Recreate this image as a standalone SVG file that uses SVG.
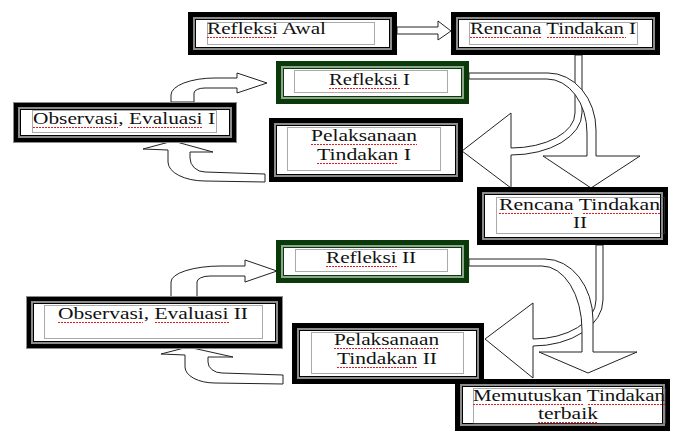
<svg xmlns="http://www.w3.org/2000/svg" width="673" height="431" viewBox="0 0 673 431">
<style>
.k{fill:#000}.g{fill:#8c8c8c}.w{fill:#fff}
.gk{fill:#0a3a0a}.gg{fill:#8fa58f}
.d{fill:none;stroke:#555;stroke-width:1;stroke-dasharray:1 1}
.t{font-family:"Liberation Serif","Times New Roman",serif;font-size:16px;fill:#111}
.sq{stroke:#e02020;stroke-width:1.2;stroke-dasharray:2 1}
.c{fill:#fff;stroke:#222;stroke-width:1;stroke-linejoin:miter}
</style>
<rect width="673" height="431" fill="#fff"/>
<g id="connectors">
<polygon class="c" points="397,27 438,27 438,21 451,31 438,40 438,34 397,34"/>
<path class="c" d="M575,55 V113 A64,35 0 0 1 511,148 V113 L462,151 L511,188 V155 A71,42 0 0 0 582,113 V55 Z"/>
<path class="c" d="M469,73 H548 A48,57 0 0 1 596,130 V156 H640 L591,188 L543,156 H587 V133 A40,54 0 0 0 547,79 H469 Z"/>
<path class="c" d="M171,102 V95 A44,17 0 0 1 215,78 H237 V73 L267,83 L237,93 V88 H205 A11,5 0 0 0 194,93 V102 Z"/>
<path class="c" d="M265,174 L205,172 A15,14 0 0 1 190,158 V152 L213,152 L173,141 L143,149 L168,150 V162 A37,19 0 0 0 205,181 L265,182 Z"/>
<path class="c" d="M596,245 V300 A63,39 0 0 1 533,339 V303 L485,339 L533,378 V346 A70,46 0 0 0 603,300 V245 Z"/>
<path class="c" d="M469,259 H545 A48,61 0 0 1 593,320 V352 H637 L588,373 L539,352 H582 V330 A40,64 0 0 0 542,266 H469 Z"/>
<path class="c" d="M171,297 V282 A50,16 0 0 1 221,266 H245 V260 L277,271 L245,282 V276 H210 A13,6 0 0 0 197,282 V297 Z"/>
<path class="c" d="M283,375 L222,373 A14,11 0 0 1 208,362 V357 L233,357 L188,347 L161,354 L185,355 V367 A30,16 0 0 0 215,383 L283,384 Z"/>
</g>
<g id="refleksi-awal">
<rect class="k" x="188" y="12" width="209" height="43"/><rect class="g" x="193" y="17" width="199" height="33"/><rect class="k" x="195" y="19" width="195" height="29"/><rect class="w" x="196" y="20" width="193" height="27"/>
<rect class="d" x="207.5" y="22.5" width="167" height="22"/>
<text class="t" x="207" y="34" textLength="119" lengthAdjust="spacingAndGlyphs">Refleksi Awal</text>
<line class="sq" x1="207" y1="37.5" x2="276" y2="37.5"/>
</g>
<g id="rencana-1">
<rect class="k" x="451" y="12" width="209" height="43"/><rect class="g" x="456" y="17" width="199" height="33"/><rect class="k" x="458" y="19" width="195" height="29"/><rect class="w" x="459" y="20" width="193" height="27"/>
<rect class="d" x="469.5" y="22.5" width="168" height="22"/>
<text class="t" x="470" y="34" textLength="166" lengthAdjust="spacingAndGlyphs">Rencana Tindakan I</text>
<line class="sq" x1="470" y1="37.5" x2="541" y2="37.5"/><line class="sq" x1="547" y1="37.5" x2="626" y2="37.5"/>
</g>
<g id="refleksi-1">
<rect class="gk" x="276" y="61" width="193" height="43"/><rect class="gg" x="281" y="66" width="183" height="33"/><rect class="gk" x="283" y="68" width="179" height="29"/><rect class="w" x="284" y="69" width="177" height="27"/>
<rect class="d" x="294.5" y="70.5" width="153" height="22"/>
<text class="t" x="329" y="85" textLength="81" lengthAdjust="spacingAndGlyphs">Refleksi I</text>
<line class="sq" x1="329" y1="88.5" x2="400" y2="88.5"/>
</g>
<g id="observasi-1">
<rect class="g" x="13" y="102" width="224" height="41"/><rect class="k" x="14" y="103" width="222" height="39"/><rect class="g" x="18" y="107" width="214" height="31"/><rect class="k" x="20" y="109" width="210" height="27"/><rect class="w" x="21" y="110" width="208" height="25"/>
<rect class="d" x="32.5" y="110.5" width="184" height="22"/>
<text class="t" x="33" y="124" textLength="182" lengthAdjust="spacingAndGlyphs">Observasi, Evaluasi I</text>
<line class="sq" x1="33" y1="127.5" x2="118" y2="127.5"/><line class="sq" x1="128" y1="127.5" x2="203" y2="127.5"/>
</g>
<g id="pelaksanaan-1">
<rect class="k" x="269" y="118" width="194" height="64"/><rect class="g" x="274" y="123" width="184" height="54"/><rect class="k" x="276" y="125" width="180" height="50"/><rect class="w" x="277" y="126" width="178" height="48"/>
<rect class="d" x="287.5" y="127.5" width="153" height="43"/>
<text class="t" x="311" y="141" textLength="106" lengthAdjust="spacingAndGlyphs">Pelaksanaan</text>
<text class="t" x="317" y="160" textLength="94" lengthAdjust="spacingAndGlyphs">Tindakan I</text>
<line class="sq" x1="311" y1="144.5" x2="417" y2="144.5"/><line class="sq" x1="317" y1="163.5" x2="398" y2="163.5"/>
</g>
<g id="rencana-2">
<rect class="k" x="477" y="187" width="191" height="58"/><rect class="g" x="482" y="192" width="181" height="48"/><rect class="k" x="484" y="194" width="177" height="44"/><rect class="w" x="485" y="195" width="175" height="42"/>
<rect class="d" x="496.5" y="197.5" width="168" height="36"/>
<text class="t" x="499" y="210" textLength="161" lengthAdjust="spacingAndGlyphs">Rencana Tindakan</text>
<text class="t" x="573" y="228" textLength="14" lengthAdjust="spacingAndGlyphs">II</text>
<line class="sq" x1="499" y1="213.5" x2="572" y2="213.5"/><line class="sq" x1="583" y1="213.5" x2="660" y2="213.5"/>
</g>
<g id="refleksi-2">
<rect class="gk" x="276" y="240" width="193" height="43"/><rect class="gg" x="281" y="245" width="183" height="33"/><rect class="gk" x="283" y="247" width="179" height="29"/><rect class="w" x="284" y="248" width="177" height="27"/>
<rect class="d" x="295.5" y="249.5" width="152" height="22"/>
<text class="t" x="326" y="263" textLength="90" lengthAdjust="spacingAndGlyphs">Refleksi II</text>
<line class="sq" x1="326" y1="266.5" x2="397" y2="266.5"/>
</g>
<g id="observasi-2">
<rect class="g" x="26" y="296" width="257" height="53"/><rect class="k" x="27" y="297" width="255" height="51"/><rect class="g" x="31" y="301" width="247" height="43"/><rect class="k" x="33" y="303" width="243" height="39"/><rect class="w" x="34" y="304" width="241" height="37"/>
<rect class="d" x="44.5" y="305.5" width="218" height="33"/>
<text class="t" x="58" y="319" textLength="190" lengthAdjust="spacingAndGlyphs">Observasi, Evaluasi II</text>
<line class="sq" x1="58" y1="322.5" x2="143" y2="322.5"/><line class="sq" x1="155" y1="322.5" x2="230" y2="322.5"/>
</g>
<g id="pelaksanaan-2">
<rect class="k" x="292" y="323" width="192" height="61"/><rect class="g" x="297" y="328" width="182" height="51"/><rect class="k" x="299" y="330" width="178" height="47"/><rect class="w" x="300" y="331" width="176" height="45"/>
<rect class="d" x="311.5" y="332.5" width="152" height="41"/>
<text class="t" x="334" y="345" textLength="105" lengthAdjust="spacingAndGlyphs">Pelaksanaan</text>
<text class="t" x="337" y="364" textLength="100" lengthAdjust="spacingAndGlyphs">Tindakan II</text>
<line class="sq" x1="334" y1="348.5" x2="439" y2="348.5"/><line class="sq" x1="337" y1="367.5" x2="417" y2="367.5"/>
</g>
<g id="memutuskan">
<rect class="k" x="455" y="379" width="215" height="52"/><rect class="g" x="460" y="384" width="205" height="42"/><rect class="k" x="462" y="386" width="201" height="38"/><rect class="w" x="463" y="387" width="199" height="36"/>
<rect class="d" x="473.5" y="388.5" width="192" height="35"/>
<text class="t" x="473" y="401" textLength="192" lengthAdjust="spacingAndGlyphs">Memutuskan Tindakan</text>
<text class="t" x="538" y="419" textLength="60" lengthAdjust="spacingAndGlyphs">terbaik</text>
<line class="sq" x1="473" y1="404.5" x2="583" y2="404.5"/><line class="sq" x1="588" y1="404.5" x2="665" y2="404.5"/><line class="sq" x1="538" y1="422.5" x2="598" y2="422.5"/>
</g>
</svg>
